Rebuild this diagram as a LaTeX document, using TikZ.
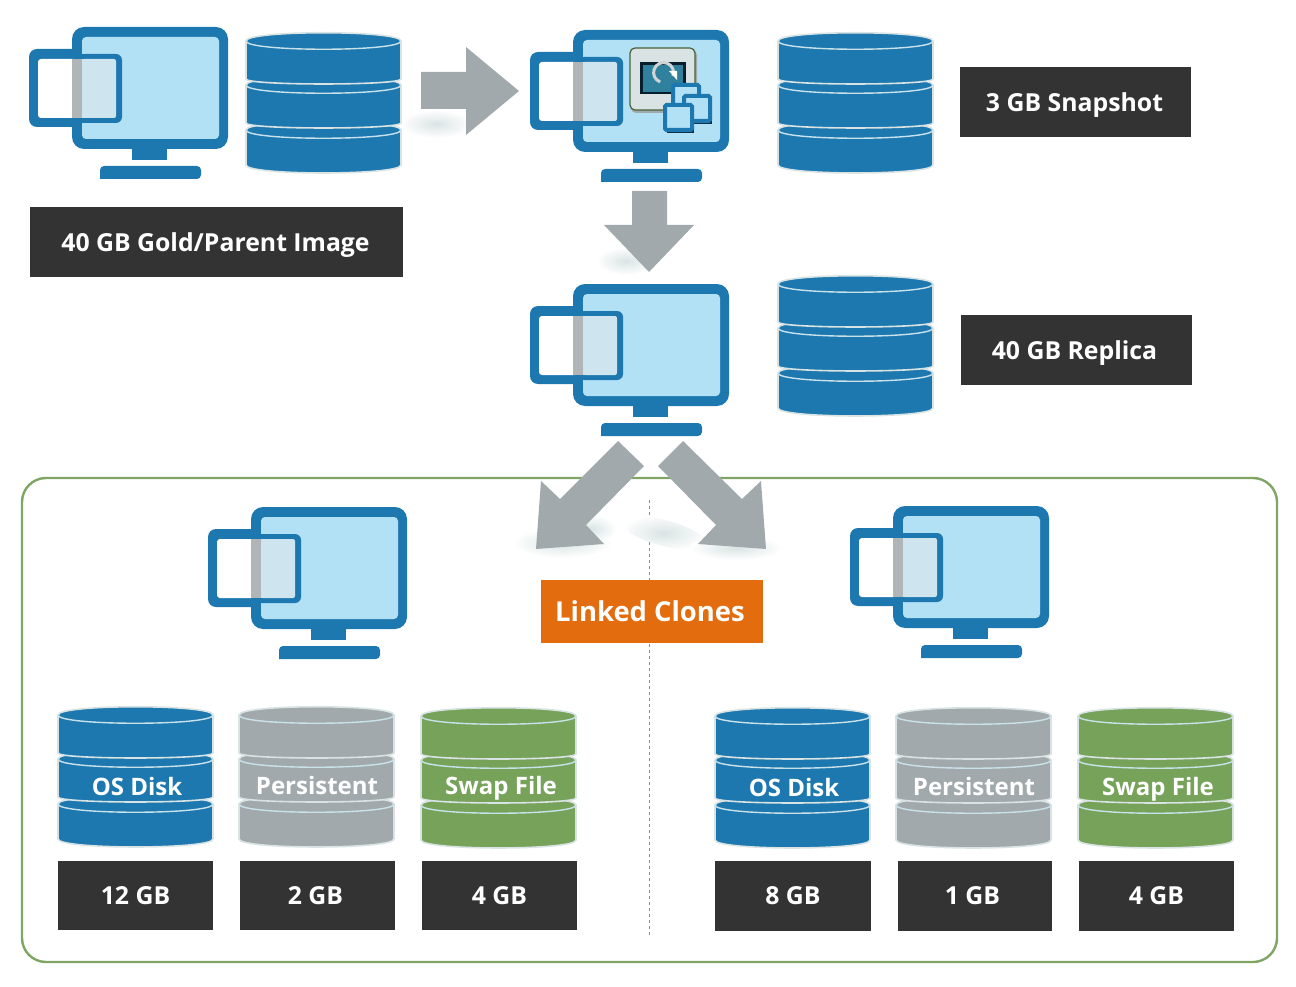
\documentclass[tikz,border=0pt]{standalone}
\usepackage{fontspec}
\setmainfont{Open Sans}
\definecolor{diskBlue}{HTML}{1D78AF}
\definecolor{screenBlue}{HTML}{B2E0F5}
\definecolor{diskGray}{HTML}{A2A9AC}
\definecolor{diskGreen}{HTML}{76A25A}
\definecolor{rimLight}{HTML}{D9E3E3}
\definecolor{boxDark}{HTML}{333333}
\definecolor{boxOrange}{HTML}{E36C0E}
\definecolor{frameGreen}{HTML}{7FA565}
\definecolor{shadowGray}{HTML}{DAE4E4}
\tikzset{
    label text/.style={text=white, text depth=0pt, font=\bfseries\fontsize{24}{28}\selectfont},
    dark box/.style={label text, font=\bfseries\fontsize{24.8}{28}\selectfont, fill=boxDark, inner sep=0pt, minimum height=70},
    disk label/.style={label text},
    block arrow/.style={fill=diskGray},
    soft shadow/.style={inner color=shadowGray, outer color=white, draw=none},
    pics/monitor/.style={
        code={
            \fill[diskBlue, rounded corners=8] (-43,22) rectangle (20,100);
            \fill[diskBlue, rounded corners=12] (0,0) rectangle (156,122);
            \fill[screenBlue, rounded corners=4] (10,10) rectangle (147,112);
            \fill[diskBlue] (60,122) rectangle (95,133);
            \fill[diskBlue, rounded corners=4] (28,152) -- (28,139) -- (129,139) -- (129,152) [sharp corners] -- cycle;
            \fill[diskBlue, rounded corners=6] (5,27) rectangle (50,96);
            \fill[white, rounded corners=3] (-34,32) rectangle (4,91);
            \fill[diskGray!85] (0,32) rectangle (10,91);
            \fill[white!45!screenBlue!92!gray, rounded corners=2] (10,32) rectangle (44,91);
            \fill[white!45!screenBlue!92!gray] (10,32) rectangle (20,91);
        }
    },
    pics/diskstack/.style={
        code={
            \foreach \top/\side/\drop in {97/132/8, 52/90/5, 8/46/5} {
                \filldraw[fill=#1, draw=rimLight, line width=1.6]
                    (0,\top) -- (0,\side)
                    .. controls (0,\side+1.33*\drop) and (155,\side+1.33*\drop) .. (155,\side)
                    -- (155,\top)
                    .. controls (155,\top-11) and (0,\top-11) .. (0,\top) -- cycle;
                \draw[rimLight!60!screenBlue, line width=1.4]
                    (0,\top) .. controls (0,\top+11) and (155,\top+11) .. (155,\top);
            }
        }
    },
    snapshot window/.style={fill=screenBlue, draw=diskBlue, line width=4, rounded corners=1.5}
}

\begin{document}
\begin{tikzpicture}[x=1pt, y=-1pt]
    \useasboundingbox (0,0) rectangle (1296,987);

    % clone area
    \draw[frameGreen, line width=2.4, rounded corners=24] (22,478) rectangle (1277,962);
    \coordinate (splitTop) at (649,500);
    \coordinate (splitBottom) at (649,937);
    \draw[frameGreen!60!gray, line width=0.8, dashed] (splitTop) -- (splitBottom);

    % shadows under the arrows
    \shade[soft shadow] (436,124) ellipse [x radius=36, y radius=14];
    \shade[soft shadow] (626,261) ellipse [x radius=30, y radius=14];
    \shade[soft shadow] (562,543) ellipse [x radius=50, y radius=15];
    \shade[soft shadow] (592,529) ellipse [x radius=24, y radius=14];
    \shade[soft shadow, rotate around={-15:(664,533)}] (664,533) ellipse [x radius=44, y radius=13];
    \shade[soft shadow] (736,548) ellipse [x radius=46, y radius=12];

    % monitors
    \foreach \mx/\my/\mname in {72/27/gold, 573/30/snap, 573/284/replica, 251/507/cloneA, 893/506/cloneB} {
        \pic (\mname) at (\mx,\my) {monitor};
    }

    % snapshot icon
    \begin{scope}[shift={(573,30)}]
        \fill[diskGray, rounded corners=5] (58,20) rectangle (124,83);
        \filldraw[fill=rimLight, draw=diskGreen!60!black, line width=1.2, rounded corners=5] (57,18) rectangle (122,80);
        \fill[black!75!diskBlue] (67,32) rectangle (113,64);
        \fill[diskBlue!80!diskGreen] (70,35) rectangle (110,62);
        \draw[diskGray!50!white, line width=3] (100,46) arc[radius=10, start angle=20, end angle=-250];
        \fill[white] (96,41) -- (104,41) -- (104,50) -- cycle;
        \filldraw[snapshot window] (100,55) rectangle (126,80);
        \fill[black!60!diskBlue] (113,69) rectangle (139,94);
        \filldraw[snapshot window] (111,66) rectangle (137,91);
        \fill[black!60!diskBlue] (94,78) rectangle (121,103);
        \filldraw[snapshot window] (92,75) rectangle (119,100);
    \end{scope}

    % disk stacks
    \foreach \sx/\sy/\scol/\sname in {246/33/diskBlue/goldDisk, 778/33/diskBlue/snapDisk, 778/276/diskBlue/replicaDisk,
            58/707/diskBlue/osA, 239/707/diskGray/persistA, 421/708/diskGreen/swapA,
            715/708/diskBlue/osB, 896/708/diskGray/persistB, 1078/708/diskGreen/swapB} {
        \pic (\sname) at (\sx,\sy) {diskstack=\scol};
    }

    % block arrows
    \fill[block arrow] (421,72) -- (466,72) -- (466,47) -- (519,91) -- (466,135) -- (466,109) -- (421,109) -- cycle;
    \fill[block arrow] (632,191) -- (667,191) -- (667,225) -- (694,225) -- (649,272) -- (604,225) -- (632,225) -- cycle;
    \fill[block arrow] (618,441) -- (644,466) -- (586,525) -- (604,544) -- (536,549) -- (541,481) -- (560,499) -- cycle;
    \fill[block arrow] (683,441) -- (658,466) -- (716,525) -- (698,544) -- (766,549) -- (761,481) -- (742,499) -- cycle;

    % labels
    \node[dark box, minimum width=373] (goldLabel) at (216.5,242) {\kern-2pt 40 GB Gold/Parent Image};
    \node[dark box, minimum width=231] (snapLabel) at (1075.5,102) {\kern-2pt 3 GB Snapshot};
    \node[dark box, minimum width=231] (replicaLabel) at (1076.5,350) {\kern-4pt 40 GB Replica};
    \node[label text, font=\bfseries\fontsize{27.4}{30}\selectfont, fill=boxOrange, inner sep=0pt, minimum width=222, minimum height=63] (cloneLabel) at (652,611.5) {\kern-4pt Linked Clones};

    \foreach \lx/\ltext/\lname in {135.5/12 GB/sizeOsA, 317.5/\kern-4pt 2 GB/sizePersistA, 499.5/4 GB/sizeSwapA} {
        \node[dark box, minimum width=155, minimum height=69] (\lname) at (\lx,895.5) {\ltext};
    }
    \foreach \lx/\lw/\ltext/\lname in {793/156/8 GB/sizeOsB, 975/154/\kern-5pt 1 GB/sizePersistB, 1156.5/155/4 GB/sizeSwapB} {
        \node[dark box, minimum width=\lw, minimum height=70] (\lname) at (\lx,896) {\ltext};
    }
    \foreach \lx/\ly/\ltext/\lname in {137/786/OS Disk/labelOsA, 317/785/Persistent/labelPersistA, 501/785/Swap File/labelSwapA,
            794/787/OS Disk/labelOsB, 974/786/Persistent/labelPersistB, 1158/786/Swap File/labelSwapB} {
        \node[disk label] (\lname) at (\lx,\ly) {\ltext};
    }
\end{tikzpicture}
\end{document}
